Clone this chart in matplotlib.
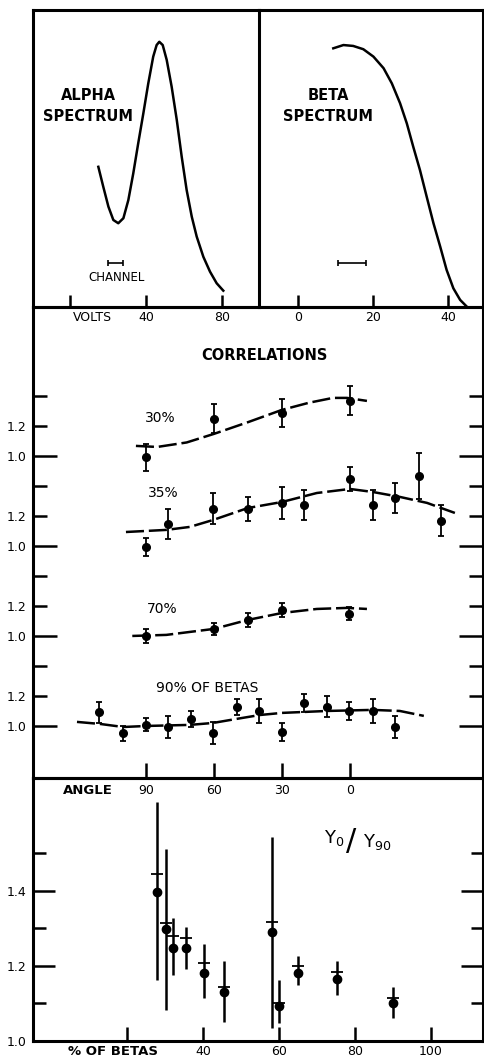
import matplotlib
matplotlib.use("Agg")
import matplotlib.pyplot as plt

plt.rcParams["font.family"] = "DejaVu Sans"
plt.rcParams["lines.scale_dashes"] = False

# ---- top: pulse height spectra (counts in arbitrary units) ----
alpha_volts = [14.9, 17.5, 20.2, 22.8, 25.4, 28.1, 30.7, 33.3, 35.9, 38.6,
               41.2, 43.8, 45.6, 47.0, 48.8, 50.9, 53.5, 56.2, 58.8, 61.4,
               64.1, 66.7, 70.2, 73.7, 77.2, 80.7]
alpha_counts = [47.2, 40.5, 33.8, 29.3, 28.2, 29.9, 36.0, 45.0, 55.1, 65.2,
                75.3, 84.3, 88.2, 89.3, 88.2, 83.2, 74.2, 63.0, 50.6, 39.4,
                30.4, 23.7, 16.9, 11.9, 8.0, 5.5]
beta_energy = [9.4, 12.1, 14.7, 17.4, 20.1, 22.8, 25.0, 27.2, 29.0, 30.7,
               32.5, 34.3, 36.1, 37.9, 39.6, 41.4, 43.2, 45.0]
beta_counts = [87.1, 88.2, 87.9, 86.8, 84.3, 80.4, 75.3, 68.6, 61.8, 54.0,
               46.1, 37.1, 28.2, 20.3, 12.5, 6.3, 2.4, 0.1]
alpha_channel = (24.0, 4.0)   # centre, half width
beta_channel = (14.4, 3.7)

# ---- middle: angular correlations ----
c30_angle = [90, 60, 30, 0]
c30_ratio = [0.99, 1.247, 1.287, 1.367]
c30_err = [0.09, 0.097, 0.093, 0.097]
f30_angle = [94.4, 85, 72, 60, 45, 30, 18, 7.5, 1.3, -7.5]
f30_ratio = [1.067, 1.06, 1.09, 1.147, 1.225, 1.307, 1.355, 1.387, 1.387, 1.367]

c35_angle = [90, 80.4, 60.4, 45, 30, 20.3, 0, -10, -19.9, -30.3, -40]
c35_ratio = [0.993, 1.147, 1.247, 1.247, 1.287, 1.273, 1.447, 1.273, 1.32, 1.467, 1.167]
c35_err = [0.06, 0.10, 0.103, 0.08, 0.107, 0.10, 0.08, 0.097, 0.103, 0.153, 0.103]
f35_angle = [98.8, 81, 70.6, 60.4, 45, 30, 14.6, 0, -10, -22, -34, -46.3]
f35_ratio = [1.093, 1.107, 1.127, 1.173, 1.253, 1.293, 1.353, 1.38, 1.36, 1.327, 1.287, 1.22]

c70_angle = [90, 60, 45, 30, 0.4]
c70_ratio = [1.0, 1.047, 1.107, 1.173, 1.147]
c70_err = [0.045, 0.04, 0.047, 0.045, 0.043]
f70_angle = [96, 81, 60, 45, 30, 14.6, 1.3, -7.5]
f70_ratio = [1.0, 1.007, 1.047, 1.107, 1.153, 1.18, 1.187, 1.18]

c90_angle = [110.7, 100.1, 90, 80.3, 70.1, 60.4, 50, 40.1, 30, 20.3, 10.1, 0.4, -10, -19.8]
c90_ratio = [1.093, 0.953, 1.007, 0.993, 1.047, 0.953, 1.127, 1.1, 0.96, 1.153,
             1.127, 1.1, 1.1, 0.993]
c90_err = [0.07, 0.05, 0.043, 0.073, 0.053, 0.073, 0.053, 0.08, 0.063, 0.057,
           0.07, 0.057, 0.077, 0.073]
f90_angle = [120.4, 110, 100, 89.6, 70.6, 60.4, 50, 39.7, 30, 10, -10, -22, -32.6]
f90_ratio = [1.027, 1.013, 0.993, 1.0, 1.007, 1.02, 1.047, 1.073, 1.087, 1.1,
             1.107, 1.1, 1.067]

# ---- bottom: Y0/Y90 against percentage of betas ----
pct_betas = [27.9, 30.3, 32.1, 35.5, 40.3, 45.5, 58.2, 60.0, 65.0, 75.4, 90.0]
y_ratio = [1.397, 1.299, 1.248, 1.248, 1.181, 1.131, 1.291, 1.093, 1.181, 1.165, 1.101]
y_low = [1.163, 1.083, 1.176, 1.192, 1.115, 1.051, 1.035, 1.048, 1.149, 1.123, 1.061]
y_high = [1.637, 1.512, 1.328, 1.304, 1.259, 1.213, 1.544, 1.163, 1.227, 1.213, 1.144]
y_cross = [1.445, 1.315, 1.28, 1.275, 1.208, 1.144, 1.317, 1.101, 1.2, 1.184, 1.115]

W, H = 484, 1059


def box(x0, y0, x1, y1):
    return [x0 / W, 1 - y1 / H, (x1 - x0) / W, (y1 - y0) / H]


fig = plt.figure(figsize=(W / 100, H / 100), dpi=100)
ax_a = fig.add_axes(box(33, 10, 259, 307))
ax_b = fig.add_axes(box(259, 10, 483, 307))
ax_c = fig.add_axes(box(33, 307, 483, 778))
ax_d = fig.add_axes(box(33, 778, 483, 1041))

for ax in (ax_a, ax_b, ax_c, ax_d):
    ax.set_facecolor("none")
    for s in ax.spines.values():
        s.set_linewidth(2.2)
    ax.tick_params(direction="in", width=1.8, labelsize=9, colors="black")

ink = "black"
tfont = dict(fontsize=10.5, fontweight="bold", color=ink)

# alpha spectrum
ax_a.plot(alpha_volts, alpha_counts, color=ink, lw=1.8)
ax_a.errorbar(alpha_channel[0], 14.8, xerr=alpha_channel[1], fmt="none",
              ecolor=ink, elinewidth=1.2, capsize=2.2, capthick=1.2)
ax_a.text(24.7, 10.1, "CHANNEL", ha="center", va="center", fontsize=8.5, color=ink)
ax_a.text(9.5, 67.7, "ALPHA\nSPECTRUM", ha="center", va="center",
          linespacing=1.45, **tfont)
ax_a.set_xlim(-19.5, 99.5)
ax_a.set_ylim(0, 100)
ax_a.set_yticks([])
ax_a.set_xticks([0, 40, 80], ["", "40", "80"])
ax_a.tick_params(axis="x", length=9, pad=3)
ax_a.text(12, -1.2, "VOLTS", ha="center", va="top", fontsize=9, color=ink)

# beta spectrum
ax_b.plot(beta_energy, beta_counts, color=ink, lw=1.8, clip_on=False)
ax_b.errorbar(beta_channel[0], 14.8, xerr=beta_channel[1], fmt="none",
              ecolor=ink, elinewidth=1.2, capsize=2.2, capthick=1.2)
ax_b.text(8.0, 67.7, "BETA\nSPECTRUM", ha="center", va="center",
          linespacing=1.45, **tfont)
ax_b.set_xlim(-10.4, 49.3)
ax_b.set_ylim(0, 100)
ax_b.set_yticks([])
ax_b.set_xticks([0, 20, 40], ["0", "20", "40"])
ax_b.tick_params(axis="x", length=9, pad=3)
ax_b.spines["left"].set_visible(False)

# correlations, each curve stacked 0.6 above the next one
series = [
    (c30_angle, c30_ratio, c30_err, f30_angle, f30_ratio, 1.8),
    (c35_angle, c35_ratio, c35_err, f35_angle, f35_ratio, 1.2),
    (c70_angle, c70_ratio, c70_err, f70_angle, f70_ratio, 0.6),
    (c90_angle, c90_ratio, c90_err, f90_angle, f90_ratio, 0.0),
]
for ang, r, e, fa, fr, off in series:
    ax_c.plot(fa, [v + off for v in fr], color=ink, lw=1.8, dashes=(13, 3.5))
    ax_c.errorbar(ang, [v + off for v in r], yerr=e, fmt="o", color=ink,
                  ms=5.5, elinewidth=1.3, capsize=2.2, capthick=1.3)

ax_c.set_xlim(139.8, -58.7)
ax_c.set_ylim(0.653, 3.793)
ax_c.set_xticks([90, 60, 30, 0], ["90", "60", "30", "0"])
ax_c.tick_params(axis="x", length=11, pad=4)
ax_c.set_yticks([1.0, 1.6, 2.2, 2.8], ["1.0"] * 4)
minor_pos = [1.2, 1.4, 1.8, 2.0, 2.4, 2.6, 3.0, 3.2]
minor_lab = ["1.2", "", "1.2", "", "1.2", "", "1.2", ""]
ax_c.set_yticks(minor_pos, minor_lab, minor=True)
ax_c.tick_params(axis="y", which="major", length=17, right=True, pad=5)
ax_c.tick_params(axis="y", which="minor", length=10, width=1.8, right=True,
                 direction="in", labelsize=9, pad=5)
ax_c.text(37.5, 3.473, "CORRELATIONS", ha="center", va="center", **tfont)
ax_c.text(83.8, 3.053, "30%", ha="center", va="center", fontsize=10, color=ink)
ax_c.text(82.5, 2.553, "35%", ha="center", va="center", fontsize=10, color=ink)
ax_c.text(82.9, 1.78, "70%", ha="center", va="center", fontsize=10, color=ink)
ax_c.text(63.1, 1.253, "90% OF BETAS", ha="center", va="center", fontsize=10,
          color=ink)
ax_c.text(115.6, 0.573, "ANGLE", ha="center", va="center", fontsize=9.5,
          fontweight="bold", color=ink, clip_on=False)

# Y0/Y90
yerr = [[r - lo for r, lo in zip(y_ratio, y_low)],
        [hi - r for r, hi in zip(y_ratio, y_high)]]
ax_d.errorbar(pct_betas, y_ratio, yerr=yerr, fmt="o", color=ink, ms=6,
              elinewidth=1.8, capsize=0)
ax_d.plot(pct_betas, y_cross, ls="none", marker="_", ms=8, mew=1.3, color=ink)
ax_d.set_xlim(-4.7, 113.7)
ax_d.set_ylim(1.0, 1.7013)
ax_d.set_xticks([20, 40, 60, 80, 100], ["", "40", "60", "80", "100"])
ax_d.tick_params(axis="x", length=10, pad=3)
ax_d.set_yticks([1.0, 1.2, 1.4], ["1.0", "1.2", "1.4"])
ax_d.set_yticks([1.1, 1.3, 1.5], minor=True)
ax_d.tick_params(axis="y", which="major", length=16, right=True, pad=5)
ax_d.tick_params(axis="y", which="minor", length=9, width=1.8, right=True,
                 direction="in")
ax_d.text(16.3, 0.99, "% OF BETAS", ha="center", va="top", fontsize=9.5,
          fontweight="bold", color=ink, clip_on=False)
ax_d.text(74.6, 1.54, "Y$_0$", ha="center", va="center", fontsize=13, color=ink)
ax_d.text(79.0, 1.533, "/", ha="center", va="center", fontsize=22, color=ink)
ax_d.text(85.8, 1.53, "Y$_{90}$", ha="center", va="center", fontsize=13, color=ink)

fig.savefig("out.png", dpi=100)
